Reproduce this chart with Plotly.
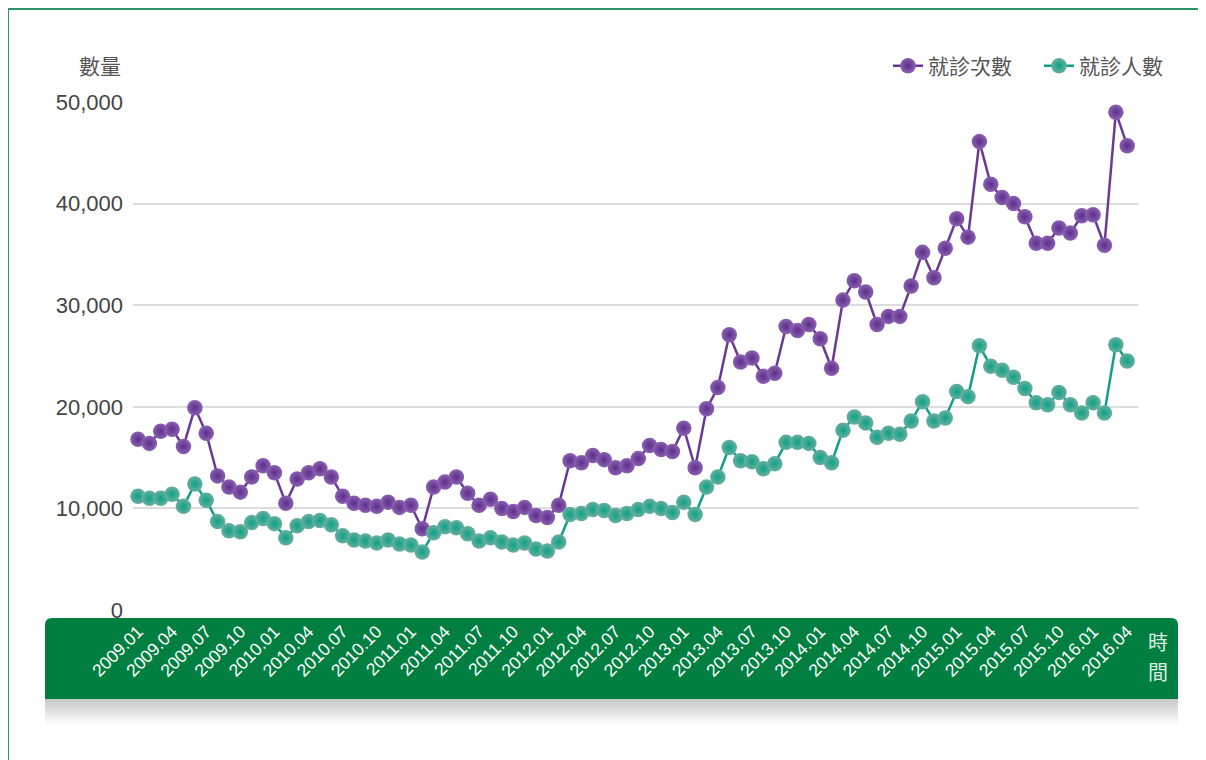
import plotly.graph_objects as go

# monthly, 2009.01 - 2016.04
months = [f"{y}.{m:02d}" for y in range(2009, 2017) for m in range(1, 13)][:88]

visits = [16800, 16400, 17600, 17800, 16100, 19900, 17400, 13200, 12100, 11600, 13100, 14200,
          13500, 10500, 12900, 13500, 13900, 13100, 11200, 10500, 10300, 10200, 10600, 10100,
          10300, 8000, 12100, 12600, 13100, 11500, 10300, 10900, 10000, 9700, 10100, 9300,
          9100, 10300, 14700, 14500, 15200, 14800, 14000, 14200, 14900, 16200, 15800, 15600,
          17900, 14000, 19800, 21900, 27100, 24400, 24800, 23000, 23300, 27900, 27500, 28100,
          26700, 23800, 30500, 32400, 31300, 28100, 28900, 28900, 31900, 35200, 32700, 35600,
          38500, 36700, 46100, 41900, 40600, 40000, 38700, 36100, 36100, 37600, 37100, 38800,
          38900, 35900, 49000, 45700]

patients = [11200, 11000, 11000, 11400, 10200, 12400, 10800, 8700, 7800, 7700, 8600, 9000,
            8500, 7100, 8300, 8700, 8800, 8400, 7300, 6900, 6800, 6600, 6900, 6500,
            6400, 5700, 7600, 8200, 8100, 7500, 6800, 7100, 6700, 6400, 6600, 6000,
            5800, 6700, 9400, 9500, 9900, 9800, 9300, 9500, 9900, 10200, 10000, 9600,
            10600, 9400, 12100, 13100, 16000, 14700, 14600, 13900, 14400, 16500, 16500, 16400,
            15000, 14500, 17700, 19000, 18400, 17000, 17400, 17300, 18600, 20500, 18600, 18900,
            21500, 21000, 26000, 24000, 23600, 22900, 21800, 20400, 20200, 21400, 20200, 19400,
            20400, 19400, 26100, 24500]

tick_vals = months[::3]

# page body adds an 8px margin, so the figure is drawn 8px smaller
OFF = 8
W, H = 1206 - OFF, 760 - OFF
L, R, T, B = 133, 1138, 102, 610   # plot area in page pixels


def px_x(p):
    return (p - L) / (R - L)


def px_y(p):
    return (B - p) / (B - T)


fig = go.Figure()
fig.add_trace(go.Scatter(
    x=months, y=visits, name="就診次數", mode="lines+markers",
    line=dict(color="#6a3996", width=2.5),
    marker=dict(size=15.5, color="#8a62b0", line=dict(width=0),
                gradient=dict(type="radial", color="#5e2d8c")),
    cliponaxis=False,
))
fig.add_trace(go.Scatter(
    x=months, y=patients, name="就診人數", mode="lines+markers",
    line=dict(color="#0fa085", width=2.5),
    marker=dict(size=15.5, color="#6aaea0", line=dict(width=0),
                gradient=dict(type="radial", color="#0ba386")),
    cliponaxis=False,
))

shapes = []
# outer frame
shapes.append(dict(type="rect", xref="paper", yref="paper",
                   x0=px_x(8), x1=px_x(1225), y0=px_y(790), y1=px_y(9),
                   line=dict(color="#2a9462", width=2), layer="below"))
# shadow under the band
n = 14
for i in range(n):
    g = int(200 + (255 - 200) * i / (n - 1))
    shapes.append(dict(type="rect", xref="paper", yref="paper",
                       x0=px_x(45), x1=px_x(1178),
                       y0=px_y(698 + 2 * (i + 1)), y1=px_y(698 + 2 * i),
                       fillcolor=f"rgb({g},{g},{g})", line=dict(width=0), layer="below"))
# green band with rounded top corners
x0, x1 = px_x(45), px_x(1178)
y0, y1 = px_y(699), px_y(618)
rx, ry = 7 / (R - L), 7 / (B - T)
path = (f"M {x0},{y0} L {x0},{y1 - ry} Q {x0},{y1} {x0 + rx},{y1} "
        f"L {x1 - rx},{y1} Q {x1},{y1} {x1},{y1 - ry} L {x1},{y0} Z")
shapes.append(dict(type="path", xref="paper", yref="paper", path=path,
                   fillcolor="#007f41", line=dict(width=0), layer="below"))

fig.update_layout(
    width=W, height=H,
    margin=dict(l=L - OFF, r=W - (R - OFF), t=T - OFF, b=H - (B - OFF)),
    plot_bgcolor="white", paper_bgcolor="white",
    font=dict(family="Noto Sans CJK TC, Liberation Sans, Arial", color="#444"),
    showlegend=True,
    legend=dict(orientation="h", x=px_x(888), xanchor="left", y=px_y(66), yanchor="middle",
                font=dict(size=21, color="#555"), itemwidth=30, entrywidth=106,
                bgcolor="rgba(0,0,0,0)"),
    shapes=shapes,
    annotations=[
        dict(text="數量", xref="paper", yref="paper", x=px_x(100), y=px_y(65),
             xanchor="center", yanchor="middle",
             showarrow=False, font=dict(size=21, color="#555")),
        dict(text="時", xref="paper", yref="paper", x=px_x(1158), y=px_y(641),
             xanchor="center", yanchor="middle",
             showarrow=False, font=dict(size=20, color="#d8eee0")),
        dict(text="間", xref="paper", yref="paper", x=px_x(1158), y=px_y(671),
             xanchor="center", yanchor="middle",
             showarrow=False, font=dict(size=20, color="#d8eee0")),
    ],
)
fig.update_xaxes(
    type="category", range=[-0.44, 87.95],
    tickmode="array", tickvals=tick_vals, ticktext=tick_vals,
    tickangle=-45, tickfont=dict(size=17.5, color="white", family="Liberation Sans, Arial"),
    showgrid=False, showline=False, zeroline=False, ticks="", ticklabelstandoff=7,
)
fig.update_yaxes(
    range=[0, 50000], tickvals=[0, 10000, 20000, 30000, 40000, 50000],
    tickformat=",", tickfont=dict(size=22, color="#444", family="Liberation Sans, Arial"),
    showgrid=True, gridcolor="#dcdcdc", gridwidth=2, zeroline=False, showline=False,
    ticks="", ticklabelstandoff=9,
)

fig.write_html("out.html")
